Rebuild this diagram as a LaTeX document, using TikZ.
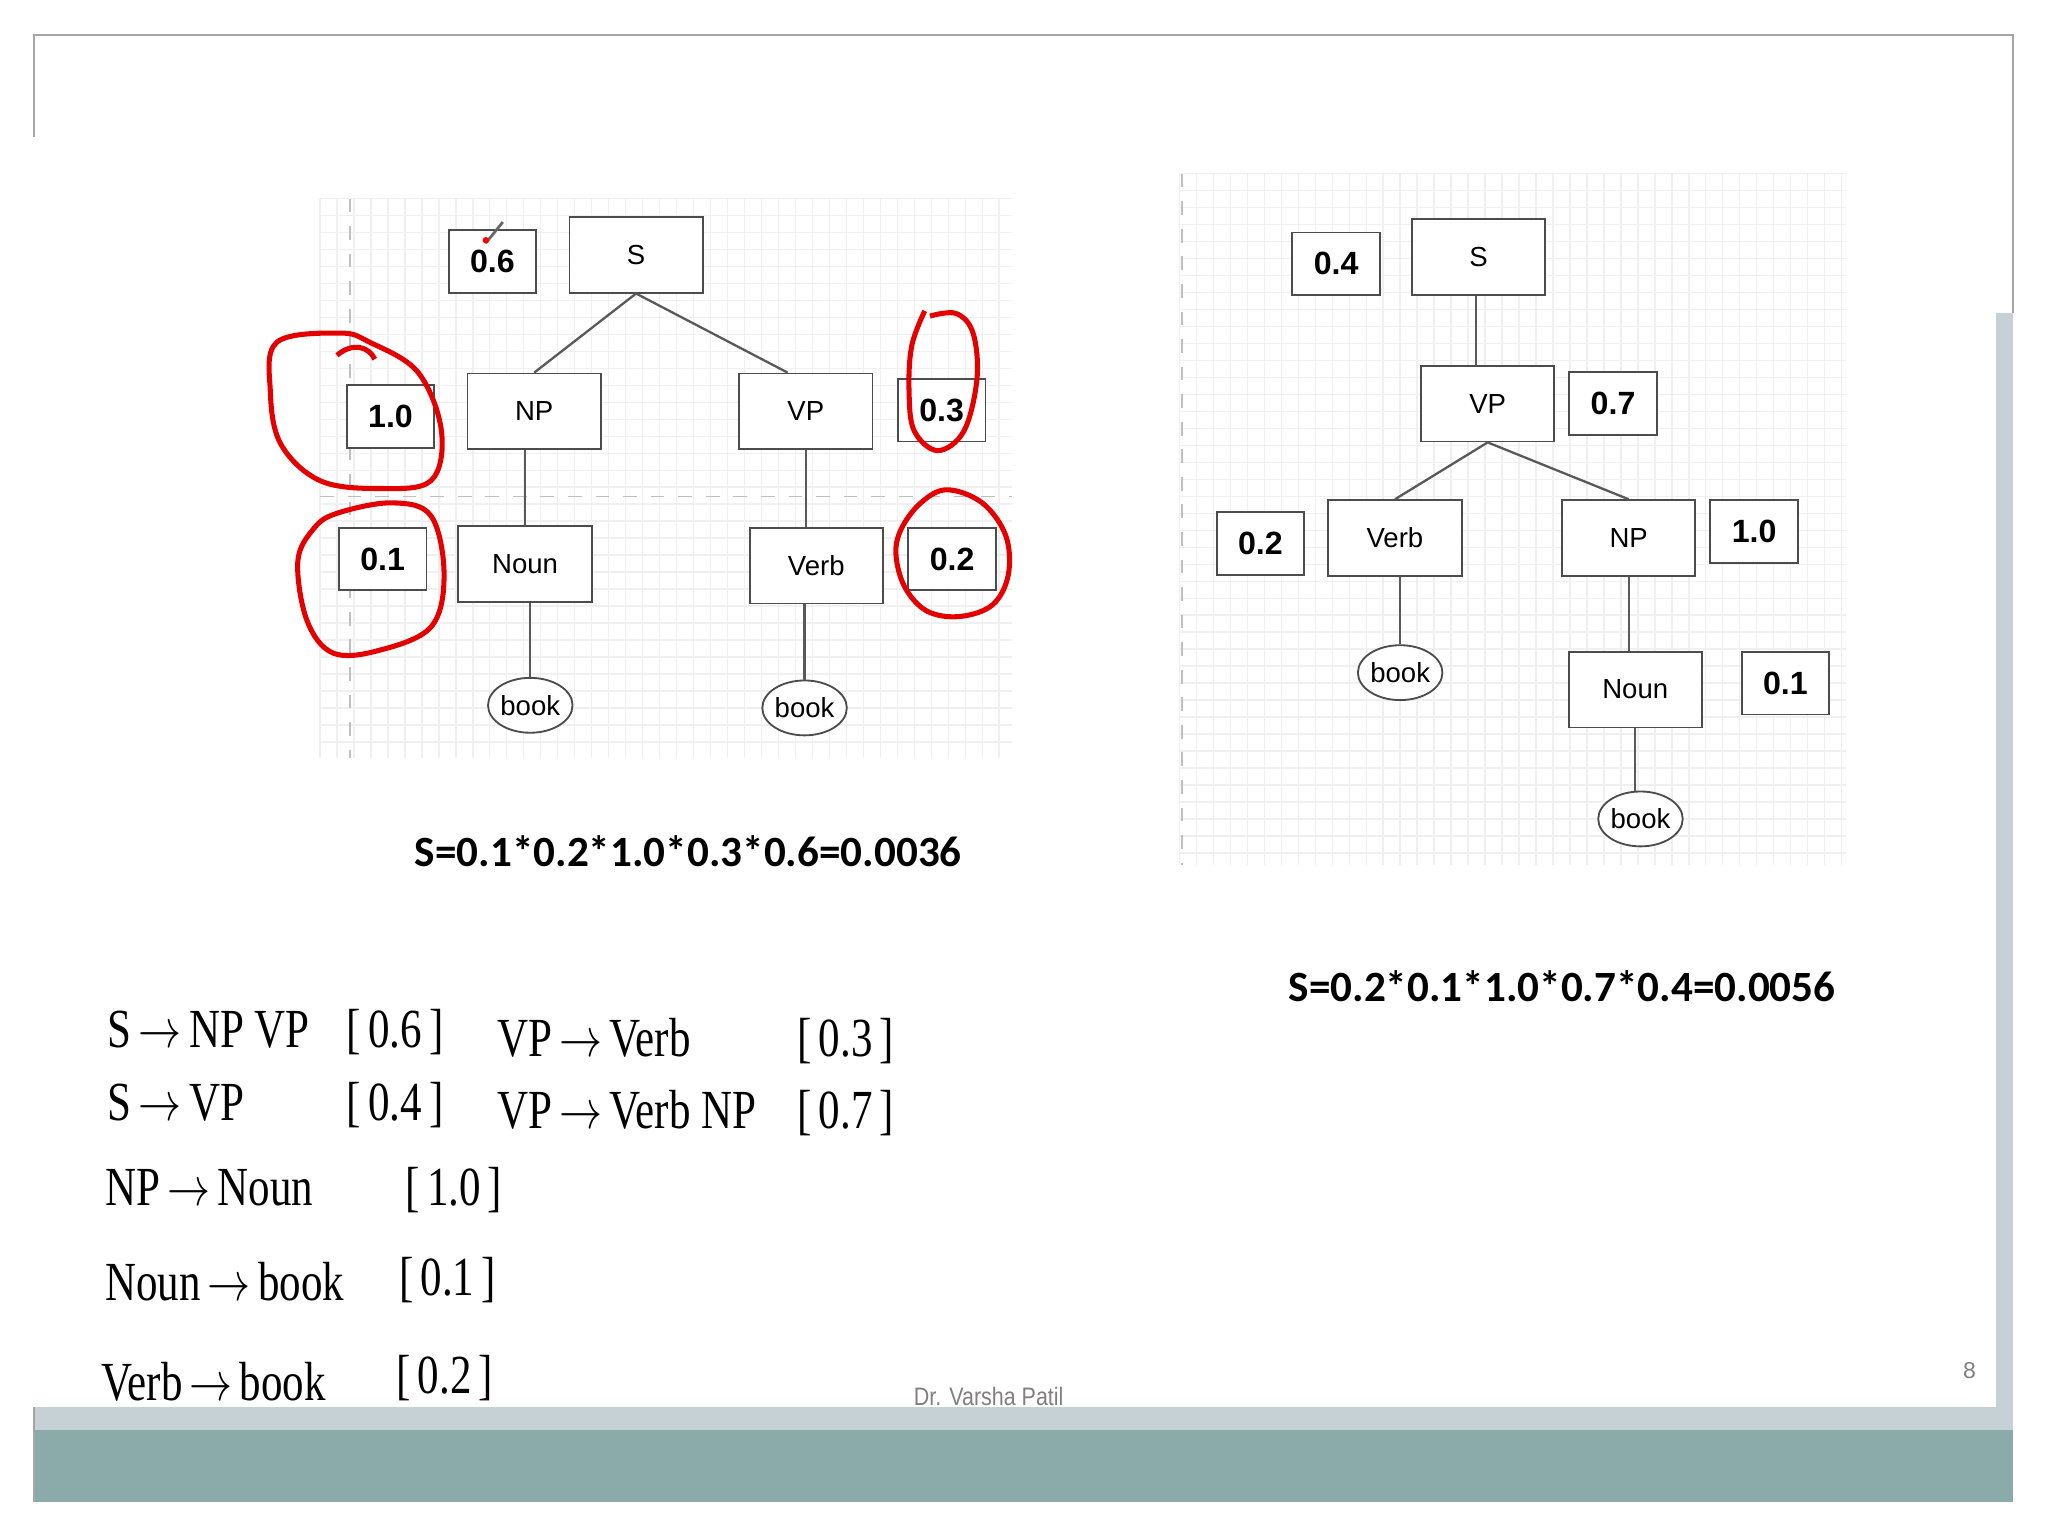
\documentclass[tikz,border=0pt]{standalone}
\usepackage{fontspec}
\setmainfont{Liberation Serif}
\newfontfamily\calfnt{Carlito}
\newfontfamily\arl{Liberation Sans}
\usetikzlibrary{shapes.geometric}
\definecolor{band}{HTML}{8AABAA}
\definecolor{lband}{HTML}{C5D1D4}
\begin{document}
\begin{tikzpicture}[x=0.01cm,y=-0.01cm,
 cat/.style={draw=black!70,fill=white,minimum width=1.02cm,minimum height=0.58cm,inner sep=0pt,font=\arl\fontsize{6}{7}\selectfont},
 prob/.style={draw=black!70,fill=white,minimum width=0.67cm,minimum height=0.48cm,inner sep=0pt,font=\arl\bfseries\fontsize{7}{8}\selectfont},
 word/.style={draw=black!70,fill=white,ellipse,minimum width=0.6cm,minimum height=0.42cm,inner sep=0pt,font=\arl\fontsize{6}{7}\selectfont},
 edge/.style={draw=black!65,line width=0.5pt},
 ring/.style={draw=red!90!black,line width=1.1pt},
 gl/.style={draw=black!6,line width=0.3pt},
 rule/.style={anchor=base west,font=\fontsize{12}{14}\selectfont,xscale=0.78,inner sep=0pt}]
\useasboundingbox (0,0) rectangle (1568,1176);
\fill[white] (0,0) rectangle (1568,1176);
% frame
\fill[lband] (1528,240) rectangle (1541,1095);
\fill[lband] (26,1077) rectangle (1541,1095);
\fill[band] (26,1095) rectangle (1541,1150);
\draw[gray!70,line width=0.4pt] (26,105) -- (26,27) -- (1541,27) -- (1541,240);
\draw[gray!70,line width=0.4pt] (26,1150) -- (26,1077);
% grids
\foreach \i in {0,...,40} {\draw[gl] (245+13*\i,152) -- (245+13*\i,580);}
\foreach \j in {0,...,32} {\draw[gl] (245,152+13*\j) -- (775,152+13*\j);}
\foreach \i in {0,...,39} {\draw[gl] (903+13*\i,133) -- (903+13*\i,662);}
\foreach \j in {0,...,40} {\draw[gl] (903,133+13*\j) -- (1413,133+13*\j);}
\draw[black!25,dashed,line width=0.3pt] (268,152) -- (268,580) (245,380) -- (775,380);
\draw[black!25,dashed,line width=0.3pt] (905,133) -- (905,662);
% left tree
\node[cat] (S1) at (487,195) {S};
\node[prob] (p06) at (377,200) {0.6};
\node[cat] (NP1) at (409,315) {NP};
\node[cat] (VP1) at (617,315) {VP};
\node[prob] (p10a) at (299,319) {1.0};
\node[prob] (p03a) at (721,314) {0.3};
\node[cat] (N1) at (402,432) {Noun};
\node[cat] (V1) at (625,433) {Verb};
\node[prob] (p01a) at (293,428) {0.1};
\node[prob] (p02a) at (729,428) {0.2};
\node[word] (b1) at (406,540) {book};
\node[word] (b2) at (616,542) {book};
\draw[edge] (S1.south) -- (NP1.north);
\draw[edge] (S1.south) -- ([xshift=-0.14cm]VP1.north);
\draw[edge] (N1.north |- NP1.south) -- (N1.north);
\draw[edge] (VP1.south) -- (VP1.south |- V1.north);
\draw[edge] (b1.north |- N1.south) -- (b1.north);
\draw[edge] (b2.north |- V1.south) -- (b2.north);
% red marks
\draw[ring] plot[smooth cycle,tension=0.6] coordinates {(212,262) (260,255) (283,262) (320,285) (338,330) (330,368) (290,374) (245,368) (215,340) (207,300)};
\draw[ring] (258,272) .. controls (270,262) and (282,265) .. (287,275);
\draw[ring] plot[smooth,tension=0.6] coordinates {(708,238) (698,265) (696,300) (700,330) (718,345) (738,330) (748,290) (745,255) (732,240) (712,242)};
\draw[ring] plot[smooth cycle,tension=0.6] coordinates {(258,393) (300,385) (330,395) (340,440) (330,480) (290,498) (255,500) (235,475) (228,430) (240,405)};
\draw[ring] plot[smooth cycle,tension=0.6] coordinates {(690,405) (705,385) (725,375) (752,385) (770,410) (772,440) (760,463) (735,472) (710,468) (693,450) (686,425)};
\draw[black!60,line width=0.6pt] (372,186) -- (385,170);
\fill[red] (372,184) circle (2.5);
% left equation
\node[font=\calfnt\bfseries\fontsize{9.4}{11}\selectfont] (eq1) at (527,652) {S=0.1*0.2*1.0*0.3*0.6=0.0036};
% right tree
\node[cat] (S2) at (1132,197) {S};
\node[prob] (p04) at (1023,202) {0.4};
\node[cat] (VP2) at (1139,309) {VP};
\node[prob] (p07) at (1235,309) {0.7};
\node[cat] (V2) at (1068,412) {Verb};
\node[prob] (p02b) at (965,416) {0.2};
\node[cat] (NP2) at (1247,412) {NP};
\node[prob] (p10b) at (1343,407) {1.0};
\node[cat] (N2) at (1252,528) {Noun};
\node[prob] (p01b) at (1367,523) {0.1};
\node[word] (b3) at (1072,515) {book};
\node[word] (b4) at (1256,627) {book};
\draw[edge] (1130,227) -- (1130,280);
\draw[edge] (VP2.south) -- (V2.north);
\draw[edge] (VP2.south) -- (NP2.north);
\draw[edge] (b3.north |- V2.south) -- (b3.north);
\draw[edge] (NP2.south) -- (NP2.south |- N2.north);
\draw[edge] (N2.south) -- (N2.south |- b4.north);
\node[font=\calfnt\bfseries\fontsize{9.4}{11}\selectfont] (eq2) at (1196,755) {S=0.2*0.1*1.0*0.7*0.4=0.0056};
% grammar
\node[rule] (r1) at (82,802) {S\,$\rightarrow$\,NP VP};
\node[rule] (r1p) at (265,802) {[\,0.6\,]};
\node[rule] (r2) at (82,858) {S\,$\rightarrow$\,VP};
\node[rule] (r2p) at (265,858) {[\,0.4\,]};
\node[rule] (r3) at (380,809) {VP\,$\rightarrow$\,Verb};
\node[rule] (r3p) at (610,809) {[\,0.3\,]};
\node[rule] (r4) at (380,864) {VP\,$\rightarrow$\,Verb NP};
\node[rule] (r4p) at (610,864) {[\,0.7\,]};
\node[rule] (r5) at (80,923) {NP\,$\rightarrow$\,Noun};
\node[rule] (r5p) at (310,923) {[\,1.0\,]};
\node[rule] (r6) at (80,996) {Noun\,$\rightarrow$\,book};
\node[rule] (r6p) at (305,992) {[\,0.1\,]};
\node[rule] (r7) at (77,1072) {Verb\,$\rightarrow$\,book};
\node[rule] (r7p) at (303,1067) {[\,0.2\,]};
\node[font=\arl\fontsize{5.5}{6}\selectfont,text=gray,xscale=0.85] (auth) at (757,1069) {Dr. Varsha Patil};
\node[font=\arl\fontsize{5}{6}\selectfont,text=gray] (pg) at (1508,1049) {8};
\end{tikzpicture}
\end{document}
